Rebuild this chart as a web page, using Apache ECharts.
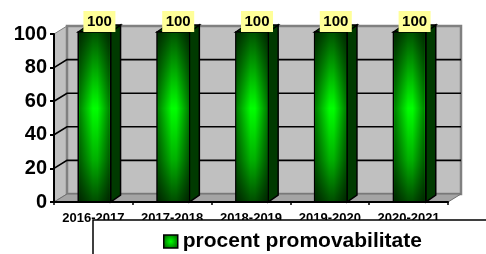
<!DOCTYPE html>
<html>
<head>
<meta charset="utf-8">
<script src="https://cdn.jsdelivr.net/npm/echarts@6/dist/echarts.min.js"></script>
<style>
    html, body { margin: 0; padding: 0; background: #ffffff; }
    #chart { width: 486px; height: 254px; }
</style>
</head>
<body>
<div id="chart"></div>
<script>
// 数据
var categories = ['2016-2017', '2017-2018', '2018-2019', '2019-2020', '2020-2021'];
var values = [100, 100, 100, 100, 100];
var yTicks = [0, 20, 40, 60, 80, 100];
var seriesName = 'procent promovabilitate';

var FONT = "'Liberation Sans', Arial, sans-serif";
// 3D 深度偏移
var WALL_DX = 13, WALL_DY = -8;
var BAR_DX = 10, BAR_DY = -7;

var myChart = echarts.init(document.getElementById('chart'));

// 柱子正面的渐变
var frontGrad = new echarts.graphic.LinearGradient(0, 0, 0, 1, [
    { offset: 0, color: '#005000' },
    { offset: 0.45, color: '#00ff00' },
    { offset: 0.75, color: '#00b000' },
    { offset: 1, color: '#004a00' }
]);
var shadeGrad = new echarts.graphic.LinearGradient(0, 0, 1, 0, [
    { offset: 0, color: 'rgba(0,0,0,0.5)' },
    { offset: 0.45, color: 'rgba(0,0,0,0)' },
    { offset: 0.6, color: 'rgba(0,0,0,0)' },
    { offset: 1, color: 'rgba(0,0,0,0.5)' }
]);

// 背景墙 + 地板 + 网格线
function renderWalls(params, api) {
    var cs = params.coordSys;
    var x0 = cs.x, x1 = cs.x + cs.width;
    var yTop = cs.y, yBot = cs.y + cs.height;
    var children = [
        {
            type: 'polygon',
            shape: { points: [[x0, yTop], [x0 + WALL_DX, yTop + WALL_DY], [x0 + WALL_DX, yBot + WALL_DY], [x0, yBot]] },
            style: { fill: '#c0c0c0', stroke: '#808080', lineWidth: 1 }
        },
        {
            type: 'rect',
            shape: { x: x0 + WALL_DX, y: yTop + WALL_DY, width: cs.width, height: cs.height },
            style: { fill: '#c0c0c0', stroke: '#808080', lineWidth: 2.5 }
        },
        {
            type: 'polygon',
            shape: { points: [[x0, yBot], [x1, yBot], [x1 + WALL_DX, yBot + WALL_DY], [x0 + WALL_DX, yBot + WALL_DY]] },
            style: { fill: '#a4a4a4', stroke: '#707070', lineWidth: 1 }
        }
    ];
    yTicks.forEach(function (v) {
        if (v === 0 || v === 100) return;
        var y = api.coord([0, v])[1];
        children.push({
            type: 'polyline',
            shape: { points: [[x0, y], [x0 + WALL_DX, y + WALL_DY], [x1 + WALL_DX, y + WALL_DY]] },
            style: { fill: null, stroke: '#000', lineWidth: 1.6 }
        });
    });
    return { type: 'group', children: children };
}

// 3D 柱子
function renderBar(params, api) {
    var i = api.value(0), v = api.value(1);
    var top = api.coord([i, v]);
    var base = api.coord([i, 0]);
    var bw = api.size([1, 0])[0] * 0.41;
    var xl = top[0] - bw / 2 + 1, xr = xl + bw;
    var yt = top[1] - 2, yb = base[1];
    var cx = (xl + xr) / 2 + 5;
    return {
        type: 'group',
        children: [
            {
                type: 'polygon',
                shape: { points: [[xr, yt], [xr + BAR_DX, yt + BAR_DY], [xr + BAR_DX, yb + BAR_DY], [xr, yb]] },
                style: { fill: '#003a00', stroke: '#000', lineWidth: 1.5 }
            },
            {
                type: 'polygon',
                shape: { points: [[xl, yt], [xl + BAR_DX, yt + BAR_DY], [xr + BAR_DX, yt + BAR_DY], [xr, yt]] },
                style: { fill: '#004800', stroke: '#000', lineWidth: 1.5 }
            },
            {
                type: 'rect',
                shape: { x: xl, y: yt, width: bw, height: yb - yt },
                style: { fill: frontGrad, stroke: '#000', lineWidth: 1.5 }
            },
            {
                type: 'rect',
                silent: true,
                shape: { x: xl + 1, y: yt + 1, width: bw - 2, height: yb - yt - 2 },
                style: { fill: shadeGrad }
            },
            {
                type: 'rect',
                shape: { x: cx - 16, y: yt - 21, width: 32, height: 21 },
                style: { fill: '#ffff99' }
            },
            {
                type: 'text',
                style: {
                    x: cx, y: yt - 10, text: String(v),
                    align: 'center', verticalAlign: 'middle',
                    font: 'bold 15px ' + FONT, fill: '#000'
                }
            }
        ]
    };
}

var option = {
    animation: false,
    backgroundColor: '#ffffff',
    grid: { left: 54, right: 38, top: 34, bottom: 52 },
    xAxis: {
        type: 'category',
        data: categories,
        z: 5,
        axisLine: { lineStyle: { color: '#000', width: 2 } },
        axisTick: { show: true, interval: 0, length: 3, lineStyle: { color: '#000', width: 1.5 } },
        axisLabel: {
            interval: 0, margin: 10,
            color: '#000', fontWeight: 'bold', fontSize: 13, fontFamily: FONT
        },
        splitLine: { show: false }
    },
    yAxis: {
        type: 'value',
        min: 0, max: 100, interval: 20,
        z: 5,
        axisLine: { show: true, lineStyle: { color: '#000', width: 2 } },
        axisTick: { show: true, length: 4, lineStyle: { color: '#000', width: 2 } },
        axisLabel: {
            margin: 7,
            color: '#000', fontWeight: 'bold', fontSize: 20, fontFamily: FONT
        },
        splitLine: { show: false }
    },
    legend: {
        z: 20,
        left: 163, top: 231,
        padding: 0,
        itemWidth: 14, itemHeight: 13,
        selectedMode: false,
        textStyle: { color: '#000', fontWeight: 'bold', fontSize: 21, fontFamily: FONT },
        data: [{
            name: seriesName,
            icon: 'rect',
            itemStyle: {
                color: new echarts.graphic.RadialGradient(0.5, 0.5, 0.6, [
                    { offset: 0, color: '#00ff00' },
                    { offset: 1, color: '#006000' }
                ]),
                borderColor: '#000', borderWidth: 1.5
            }
        }]
    },
    graphic: [{
        type: 'rect',
        z: 10,
        shape: { x: 93, y: 220, width: 420, height: 60 },
        style: { fill: '#ffffff', stroke: '#000', lineWidth: 1.5 }
    }],
    series: [
        {
            type: 'custom',
            name: 'walls',
            z: 1,
            silent: true,
            renderItem: renderWalls,
            data: [[0, 0]]
        },
        {
            type: 'custom',
            name: seriesName,
            z: 3,
            itemStyle: { color: '#00c000' },
            renderItem: renderBar,
            encode: { x: 0, y: 1 },
            data: categories.map(function (c, i) { return [i, values[i]]; })
        }
    ]
};

myChart.setOption(option);
</script>
</body>
</html>
